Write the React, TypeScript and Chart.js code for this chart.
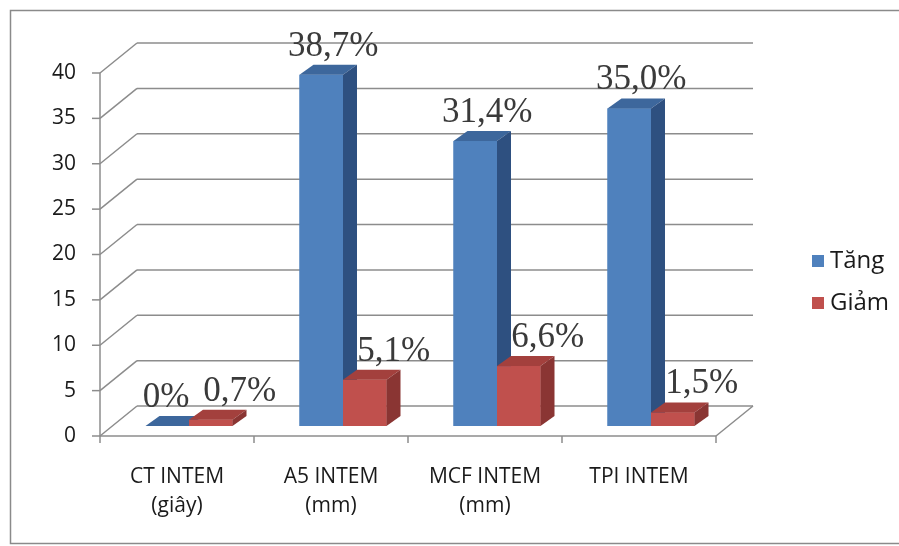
import React, { useEffect, useRef } from 'react';
import { Chart, registerables } from 'chart.js';

Chart.register(...registerables);

const categories: string[][] = [
  ['CT INTEM', '(giây)'],
  ['A5 INTEM', '(mm)'],
  ['MCF INTEM', '(mm)'],
  ['TPI INTEM'],
];
const seriesNames = ['Tăng', 'Giảm'];
const tangValues = [0, 38.7, 31.4, 35.0];
const giamValues = [0.7, 5.1, 6.6, 1.5];
const yMin = 0;
const yMax = 40;
const yStep = 5;

const FRONT = ['#4F81BD', '#C0504D'];
const SIDE = ['#2E5080', '#8A3533'];
const TOP = ['#3D679C', '#A3403D'];
const GRID = '#8c8c8c';
const SANS = '"Open Sans", "Noto Sans", sans-serif';
const SERIF = '"Liberation Serif", "Times New Roman", serif';

// 3D projection offsets relative to the bar plane
const FDX = -12, FDY = 10; // front plane
const BDX = 25, BDY = -20; // back wall
const BX = 14, BY = -10; // bar depth
const LABEL_DX = [12, 29];
const LABEL_GAP = 14;

function fmt(v: number): string {
  if (v === 0) return '0%';
  return v.toFixed(1).replace('.', ',') + '%';
}

const threeD = {
  id: 'threeD',
  beforeDatasetsDraw(chart: any) {
    const { ctx, chartArea, scales } = chart;
    const { left, right } = chartArea;
    const x = scales.x;
    const y = scales.y;
    const line = (x1: number, y1: number, x2: number, y2: number) => {
      ctx.beginPath();
      ctx.moveTo(x1, y1);
      ctx.lineTo(x2, y2);
      ctx.stroke();
    };
    ctx.save();
    ctx.strokeStyle = GRID;
    ctx.lineWidth = 1.5;
    const p0 = y.getPixelForValue(0);
    y.ticks.forEach((t: any) => {
      const p = y.getPixelForValue(t.value);
      line(left + FDX, p + FDY, left + BDX, p + BDY);
      line(left + BDX, p + BDY, right + BDX, p + BDY);
      line(left + FDX - 8, p + FDY, left + FDX, p + FDY);
    });
    line(left + FDX, y.getPixelForValue(y.max) + FDY, left + FDX, p0 + FDY);
    line(left + FDX, p0 + FDY, right + FDX, p0 + FDY);
    line(right + FDX, p0 + FDY, right + BDX, p0 + BDY);
    const n = x.ticks.length;
    const step = (right - left) / n;
    for (let i = 0; i <= n; i++) {
      const bx = left + i * step + FDX;
      line(bx, p0 + FDY, bx, p0 + FDY + 7);
    }
    ctx.restore();
  },
  afterDatasetsDraw(chart: any) {
    const { ctx } = chart;
    ctx.save();
    chart.data.datasets.forEach((_ds: any, idx: number) => {
      const meta = chart.getDatasetMeta(idx);
      meta.data.forEach((bar: any) => {
        const { x, y, base, width } = bar.getProps(['x', 'y', 'base', 'width'], true);
        const l = x - width / 2;
        const r = x + width / 2;
        ctx.fillStyle = FRONT[idx];
        ctx.fillRect(l, y, width, base - y);
        ctx.fillStyle = TOP[idx];
        ctx.beginPath();
        ctx.moveTo(l, y);
        ctx.lineTo(l + BX, y + BY);
        ctx.lineTo(r + BX, y + BY);
        ctx.lineTo(r, y);
        ctx.closePath();
        ctx.fill();
        ctx.fillStyle = SIDE[idx];
        ctx.beginPath();
        ctx.moveTo(r, y);
        ctx.lineTo(r + BX, y + BY);
        ctx.lineTo(r + BX, base + BY);
        ctx.lineTo(r, base);
        ctx.closePath();
        ctx.fill();
      });
    });
    ctx.restore();
  },
  afterDraw(chart: any) {
    const { ctx } = chart;
    ctx.save();
    // value labels
    ctx.font = `35px ${SERIF}`;
    ctx.fillStyle = '#3a3a3a';
    ctx.textAlign = 'center';
    ctx.textBaseline = 'alphabetic';
    const metaA = chart.getDatasetMeta(0);
    const metaB = chart.getDatasetMeta(1);
    const dsA = chart.data.datasets[0];
    const dsB = chart.data.datasets[1];
    metaA.data.forEach((barA: any, i: number) => {
      const barB = metaB.data[i];
      const pa = barA.getProps(['x', 'y'], true);
      const pb = barB.getProps(['x', 'y'], true);
      const ta = fmt(dsA.data[i]);
      const tb = fmt(dsB.data[i]);
      let xa = pa.x + LABEL_DX[0];
      const ya = pa.y - 19;
      const xb = pb.x + LABEL_DX[1];
      const yb = pb.y - 19;
      const wa = ctx.measureText(ta).width;
      const wb = ctx.measureText(tb).width;
      if (Math.abs(ya - yb) < 30) {
        const overlap = xa + wa / 2 + LABEL_GAP - (xb - wb / 2);
        if (overlap > 0) xa -= overlap;
      }
      ctx.fillText(ta, xa, ya);
      ctx.fillText(tb, xb, yb);
    });
    // legend
    ctx.font = `24px ${SANS}`;
    ctx.textAlign = 'left';
    ctx.textBaseline = 'middle';
    const legendY = [261, 303];
    chart.data.datasets.forEach((ds: any, di: number) => {
      ctx.fillStyle = FRONT[di];
      ctx.fillRect(812, legendY[di] - 6, 12, 12);
      ctx.fillStyle = '#1a1a1a';
      ctx.fillText(ds.label, 830, legendY[di]);
    });
    // outer border
    ctx.strokeStyle = '#8a8a8a';
    ctx.lineWidth = 1.5;
    ctx.strokeRect(10.5, 10.5, 895, 533);
    ctx.restore();
  },
};

export default function App() {
  const ref = useRef<HTMLCanvasElement | null>(null);
  useEffect(() => {
    if (!ref.current) return;
    const chart = new Chart(ref.current, {
      type: 'bar',
      data: {
        labels: categories,
        datasets: [
          { label: seriesNames[0], data: tangValues, backgroundColor: FRONT[0], borderWidth: 0 },
          { label: seriesNames[1], data: giamValues, backgroundColor: FRONT[1], borderWidth: 0 },
        ],
      },
      options: {
        responsive: false,
        animation: false,
        devicePixelRatio: 1,
        layout: { padding: { left: 0, right: 171, top: 63, bottom: 0 } },
        datasets: { bar: { categoryPercentage: 0.565, barPercentage: 1.0 } },
        plugins: { legend: { display: false }, tooltip: { enabled: false } },
        scales: {
          x: {
            grid: { display: false, drawTicks: false },
            border: { display: false },
            ticks: {
              color: '#1a1a1a',
              font: { family: SANS, size: 21, lineHeight: 1.4 },
              padding: 36,
              labelOffset: FDX,
              maxRotation: 0,
              autoSkip: false,
            },
            afterFit: (s: any) => { s.height = 120; },
          },
          y: {
            min: yMin,
            max: yMax,
            grid: { display: false, drawTicks: false },
            border: { display: false },
            ticks: {
              stepSize: yStep,
              color: '#1a1a1a',
              font: { family: SANS, size: 21 },
              padding: 36,
              labelOffset: FDY,
            },
            afterFit: (s: any) => { s.width = 112; },
          },
        },
      },
      plugins: [threeD],
    } as any);
    return () => chart.destroy();
  }, []);
  return (
    <div style={{ position: 'absolute', left: 0, top: 0, width: 899, height: 546, background: '#fff' }}>
      <canvas ref={ref} width={899} height={546} />
    </div>
  );
}
